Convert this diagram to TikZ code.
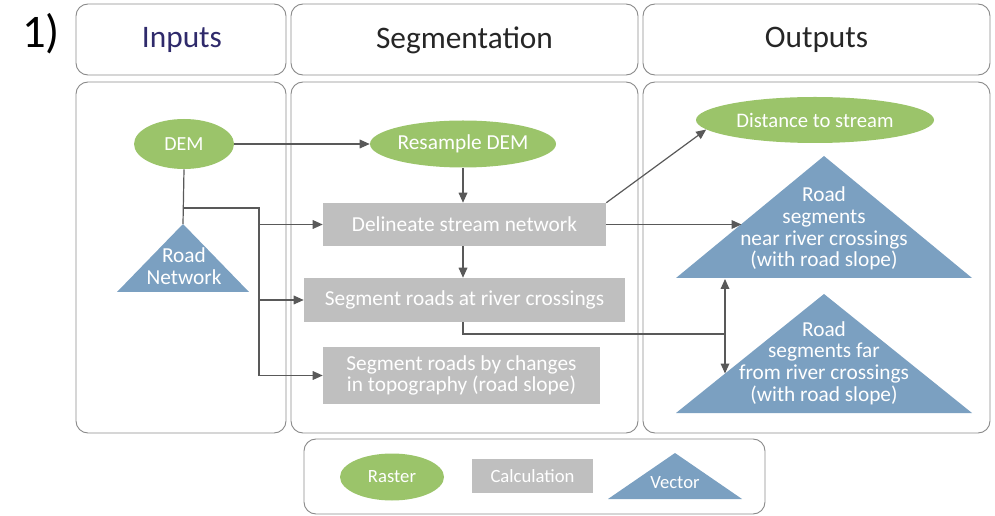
\documentclass[tikz,border=0pt]{standalone}
\usepackage{fontspec}
\setmainfont{Carlito}
\usetikzlibrary{shapes.geometric,arrows.meta,calc}
\definecolor{rastergreen}{HTML}{9BC46A}
\definecolor{vectorblue}{HTML}{7BA0C1}
\definecolor{calcgray}{HTML}{BFBFBF}
\definecolor{linegray}{HTML}{595959}
\definecolor{framegray}{HTML}{8A8A8A}
\definecolor{inputsnavy}{HTML}{2F2A6B}
\begin{document}
\begin{tikzpicture}[x=0.75pt,y=-0.75pt,
  panel/.style={draw=framegray,line width=0.7pt,rounded corners=9pt},
  heading/.style={font=\fontsize{23.5}{27}\selectfont,text=black!85},
  raster/.style={ellipse,fill=rastergreen,text=white,inner sep=0pt,font=\fontsize{16}{16}\selectfont},
  calcbox/.style={rectangle,fill=calcgray,text=white,inner sep=0pt,align=center,font=\fontsize{16}{16}\selectfont},
  vecshape/.style={fill=vectorblue},
  veclabel/.style={text=white,align=center,inner sep=0pt,font=\fontsize{16}{16.3}\selectfont},
  flow/.style={draw=linegray,line width=0.9pt,-{Triangle[length=7.5pt,width=6.5pt]}},
  twoway/.style={draw=linegray,line width=0.9pt,{Triangle[length=7.5pt,width=6.5pt]}-{Triangle[length=7.5pt,width=6.5pt]}},
  link/.style={draw=linegray,line width=0.9pt},
]
\useasboundingbox (0,0) rectangle (995,516);

% panel label
\node[font=\fontsize{35}{35}\selectfont] (num) at (41,34) {1)};

% column headings
\draw[panel] (76,4) rectangle (286,75);
\draw[panel] (291,4) rectangle (638,75);
\draw[panel] (643,4) rectangle (990,75);
\node[heading,text=inputsnavy] (hin) at (182,40) {Inputs};
\node[heading] (hseg) at (464.5,40) {Segmentation};
\node[heading] (hout) at (816.5,40) {Outputs};

% column bodies
\draw[panel] (76,82) rectangle (286,433);
\draw[panel] (291,82) rectangle (638,433);
\draw[panel] (643,82) rectangle (990,433);

% legend frame
\draw[panel] (304,439) rectangle (765,514);

% inputs
\node[raster,minimum width=75pt,minimum height=37.5pt,font=\fontsize{15}{15}\selectfont] (dem) at (184,144) {DEM};
\fill[vecshape] (183,224) coordinate (roadtop) -- (249,292) -- (117,292) -- cycle;
\node[veclabel] (road) at (184,266) {Road\\Network};

% segmentation steps
\node[raster,minimum width=139.5pt,minimum height=35.25pt] (resample) at (463,144) {Resample DEM};
\node[calcbox,minimum width=212.25pt,minimum height=32.25pt] (delin) at (464.5,224.5) {Delineate stream network};
\node[calcbox,minimum width=240.75pt,minimum height=33pt] (cross) at (464.5,300) {Segment roads at river crossings};
\node[calcbox,minimum width=207.75pt,minimum height=42.75pt] (topo) at (461.5,375.5) {Segment roads by changes\\in topography (road slope)};

% outputs
\node[raster,minimum width=178.5pt,minimum height=34.5pt,font=\fontsize{15.5}{15.5}\selectfont] (dist) at (815,120) {Distance to stream};
\fill[vecshape] (824,156) -- (972,278) -- (676,278) -- cycle;
\node[veclabel] (near) at (824,228.5) {Road\\segments\\near river crossings\\(with road slope)};
\fill[vecshape] (824,294) -- (972,413) -- (676,413) -- cycle;
\node[veclabel] (far) at (824,363) {Road\\segments far\\from river crossings\\(with road slope)};

% legend
\node[raster,minimum width=78pt,minimum height=35.25pt,font=\fontsize{14}{14}\selectfont] (lraster) at (392,477) {Raster};
\node[calcbox,minimum width=90.75pt,minimum height=25.5pt,font=\fontsize{14}{14}\selectfont] (lcalc) at (532.5,476) {Calculation};
\fill[vecshape] (675,453) -- (742,499) -- (608,499) -- cycle;
\node[veclabel,font=\fontsize{14}{14}\selectfont] (lvec) at (675,483) {Vector};

% connector end points on the triangle edges
\coordinate (nearleft) at (741.5,224.5);
\coordinate (nearbase) at (725,279);
\coordinate (farleft) at (725,373.5);
\coordinate (split) at (184,208);
\coordinate (trunk) at (259,208);
\coordinate (merge) at (725,334);

% connectors
\draw[flow] (dem.east) -- (dem.east -| resample.west);
\draw[link] (dem.south) -- (roadtop);
\draw[link] (split) -- (trunk) -- (trunk |- topo.west);
\draw[flow] (trunk |- delin.west) -- (delin.west);
\draw[flow] (trunk |- cross.west) -- (cross.west);
\draw[flow] (trunk |- topo.west) -- (topo.west);
\draw[flow] (resample.south) -- (resample.south |- delin.north);
\draw[flow] (resample.south |- delin.south) -- (resample.south |- cross.north);
\draw[flow] (delin.north east) -- (dist.185);
\draw[flow] (delin.east) -- (nearleft);
\draw[link] (resample.south |- cross.south) |- (merge);
\draw[twoway] (nearbase) -- (farleft);
\end{tikzpicture}
\end{document}
